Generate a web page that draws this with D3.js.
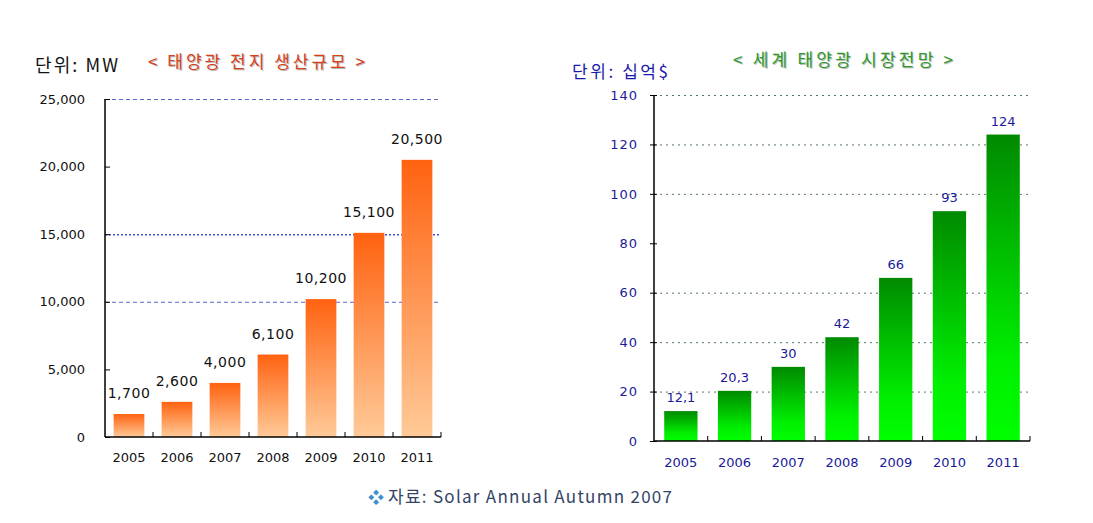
<!DOCTYPE html>
<html><head><meta charset="utf-8">
<script src="https://cdn.jsdelivr.net/npm/d3@7"></script>
<style>
body{margin:0;background:#fff;}
text{font-family:"DejaVu Sans","Noto Sans CJK KR",sans-serif;}
.kr{font-family:"Noto Sans CJK KR","DejaVu Sans",sans-serif;}
</style></head>
<body>
<svg id="c" width="1093" height="523"></svg>
<script>
const years = ["2005","2006","2007","2008","2009","2010","2011"];
const productionMW = [1700, 2600, 4000, 6100, 10200, 15100, 20500];
const marketBillion = [12.1, 20.3, 30, 42, 66, 93, 124];
const leftTicks = [0, 5000, 10000, 15000, 20000, 25000];
const leftGrid = [10000, 15000, 25000];
const rightTicks = [0, 20, 40, 60, 80, 100, 120, 140];
const rightGrid = [20, 40, 60, 100, 120, 140];

const svg = d3.select("#c");
const defs = svg.append("defs");
const gO = defs.append("linearGradient").attr("id","gO").attr("x1",0).attr("y1",0).attr("x2",0).attr("y2",1);
gO.append("stop").attr("offset","0%").attr("stop-color","#FF6210");
gO.append("stop").attr("offset","100%").attr("stop-color","#FFCA98");
const gG = defs.append("linearGradient").attr("id","gG").attr("x1",0).attr("y1",0).attr("x2",0).attr("y2",1);
gG.append("stop").attr("offset","0%").attr("stop-color","#008A00");
gG.append("stop").attr("offset","75%").attr("stop-color","#00F000");
gG.append("stop").attr("offset","100%").attr("stop-color","#00FF00");

// ---------- Left chart ----------
const L = {x0:105, x1:441, y0:437, y1:99};
const xL = d3.scaleBand().domain(years).range([L.x0, L.x1]).paddingInner(0.36).paddingOuter(0.18);
const yL = d3.scaleLinear().domain([0,25000]).range([L.y0, L.y1]);
const gl = svg.append("g");
gl.selectAll("line.grid").data(leftGrid).join("line")
  .attr("x1",L.x0).attr("x2",L.x1-2).attr("y1",d=>yL(d)+0.5).attr("y2",d=>yL(d)+0.5)
  .attr("stroke",d=>d===15000?"#3F50DD":"#5A68D0")
  .attr("stroke-width",d=>d===15000?1.6:1.1)
  .attr("stroke-dasharray",d=>d===15000?"2,2":"4,3");
gl.selectAll("rect").data(productionMW).join("rect")
  .attr("x",(d,i)=>xL(years[i])).attr("width",xL.bandwidth())
  .attr("y",d=>yL(d)).attr("height",d=>L.y0-yL(d)).attr("fill","url(#gO)");
const axL = d3.axisLeft(yL).tickValues(leftTicks).tickSize(-5).tickPadding(20)
  .tickFormat(d3.format(","));
const aL = gl.append("g").attr("transform",`translate(${L.x0},0)`).call(axL);
aL.select(".domain").attr("stroke","#000").attr("stroke-width",1.5).attr("d",`M0,${L.y0}V${L.y1}`);
aL.selectAll("text").attr("font-size",13).attr("fill","#111").attr("font-family","DejaVu Sans");
const axLx = d3.axisBottom(xL).tickSize(0).tickPadding(16);
const bL = gl.append("g").attr("transform",`translate(0,${L.y0})`).call(axLx);
bL.select(".domain").attr("stroke","#000").attr("stroke-width",1.5).attr("d",`M${L.x0},0H${L.x1}`);
bL.selectAll("text").attr("font-size",13).attr("fill","#111").attr("font-family","DejaVu Sans");
const stepL = xL.step();
gl.selectAll("line.xt").data(years).join("line").attr("class","xt")
  .attr("x1",d=>xL(d)+xL.bandwidth()+stepL*0.18).attr("x2",d=>xL(d)+xL.bandwidth()+stepL*0.18)
  .attr("y1",L.y0).attr("y2",L.y0-5).attr("stroke","#000").attr("stroke-width",1);
gl.selectAll("text.val").data(productionMW).join("text").attr("class","val")
  .attr("x",(d,i)=>xL(years[i])+xL.bandwidth()/2).attr("y",d=>yL(d)-16)
  .attr("text-anchor","middle").attr("font-size",14).attr("fill","#111").attr("letter-spacing","0.5px")
  .text(d=>d3.format(",")(d));
svg.append("text").attr("class","kr").attr("x",35).attr("y",72).attr("font-size",18).attr("fill","#111")
  .attr("textLength",83).attr("lengthAdjust","spacing").text("단위: MW");
svg.append("text").attr("class","kr").attr("x",148).attr("y",68).attr("font-size",17).attr("fill","#D8401A")
  .attr("style","text-shadow:1px 1px 0 #bbb").attr("textLength",217).attr("lengthAdjust","spacing")
  .text("< 태양광 전지 생산규모 >");

// ---------- Right chart ----------
const R = {x0:654, x1:1030, y0:441, y1:95};
const xR = d3.scaleBand().domain(years).range([R.x0, R.x1]).paddingInner(0.38).paddingOuter(0.19);
const yR = d3.scaleLinear().domain([0,140]).range([R.y0, R.y1]);
const gr = svg.append("g");
gr.selectAll("line.grid").data(rightGrid).join("line")
  .attr("x1",R.x0).attr("x2",R.x1).attr("y1",d=>yR(d)+0.5).attr("y2",d=>yR(d)+0.5)
  .attr("stroke","#557766").attr("stroke-width",1).attr("stroke-dasharray","2,4");
gr.selectAll("rect").data(marketBillion).join("rect")
  .attr("x",(d,i)=>xR(years[i])).attr("width",xR.bandwidth())
  .attr("y",d=>yR(d)).attr("height",d=>R.y0-yR(d)).attr("fill","url(#gG)");
const axR = d3.axisLeft(yR).tickValues(rightTicks).tickSize(4).tickPadding(12);
const aR = gr.append("g").attr("transform",`translate(${R.x0},0)`).call(axR);
aR.select(".domain").attr("stroke","#000").attr("stroke-width",1.5).attr("d",`M0,${R.y0}V${R.y1}`);
aR.selectAll(".tick line").attr("x1",3).attr("stroke","#000");
aR.selectAll("text").attr("font-size",13).attr("fill","#1A1A99").attr("letter-spacing","1px").attr("font-family","DejaVu Sans");
const axRx = d3.axisBottom(xR).tickSize(0).tickPadding(17);
const bR = gr.append("g").attr("transform",`translate(0,${R.y0})`).call(axRx);
bR.select(".domain").attr("stroke","#000").attr("stroke-width",1.5).attr("d",`M${R.x0},0H${R.x1}`);
bR.selectAll("text").attr("font-size",13).attr("fill","#1A1A99").attr("font-family","DejaVu Sans");
const stepR = xR.step();
gr.selectAll("line.xt").data(years).join("line").attr("class","xt")
  .attr("x1",d=>xR(d)+xR.bandwidth()+stepR*0.19).attr("x2",d=>xR(d)+xR.bandwidth()+stepR*0.19)
  .attr("y1",R.y0).attr("y2",R.y0-5).attr("stroke","#000").attr("stroke-width",1);
gr.selectAll("text.val").data(marketBillion).join("text").attr("class","val")
  .attr("x",(d,i)=>xR(years[i])+xR.bandwidth()/2).attr("y",d=>yR(d)-9)
  .attr("text-anchor","middle").attr("font-size",13).attr("fill","#1A1A99")
  .text(d=>String(d).replace(".",","));
svg.append("text").attr("class","kr").attr("x",572).attr("y",78).attr("font-size",17).attr("fill","#1A1AAA")
  .attr("textLength",96).attr("lengthAdjust","spacing").text("단위: 십억$");
svg.append("text").attr("class","kr").attr("x",733).attr("y",66).attr("font-size",17).attr("fill","#2E9A2E")
  .attr("style","text-shadow:1px 1px 0 #bbb").attr("textLength",220).attr("lengthAdjust","spacing")
  .text("< 세계 태양광 시장전망 >");

// ---------- Footer ----------
svg.append("text").attr("class","kr").attr("x",368).attr("y",503).attr("font-size",16).attr("fill","#3A8FD0").text("❖");
svg.append("text").attr("class","kr").attr("x",388).attr("y",503).attr("font-size",17).attr("fill","#334466")
  .attr("textLength",284).attr("lengthAdjust","spacing").text("자료: Solar Annual Autumn 2007");
</script>
</body></html>
